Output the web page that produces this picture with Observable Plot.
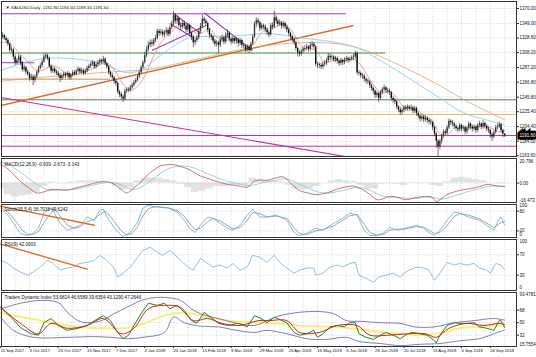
<!DOCTYPE html>
<html><head><meta charset="utf-8">
<script src="https://cdn.jsdelivr.net/npm/d3@7"></script>
<script src="https://cdn.jsdelivr.net/npm/@observablehq/plot@0.6"></script>
<style>
body{margin:0;background:#fff}
#chart{position:relative;width:536px;height:357px;overflow:hidden;background:#fff}
#chart svg{position:absolute;left:0;overflow:visible}
</style></head><body><div id="chart"></div>
<script>
// ---------- DATA ----------
const symbolTitle = "\u25BC XAUUSD,Daily  1192.80 1194.50 1189.30 1191.60";
const labelBars = [0,16,32,48,64,80,96,112,128,144,160,176,192,208,224,240,256,272];
const dateLabels = ["11 Sep 2017","3 Oct 2017","25 Oct 2017","15 Nov 2017","7 Dec 2017","2 Jan 2018","24 Jan 2018","15 Feb 2018","9 Mar 2018","29 Mar 2018","23 Apr 2018","15 May 2018","6 Jun 2018","28 Jun 2018","20 Jul 2018","13 Aug 2018","4 Sep 2018","26 Sep 2018"];
const priceTicks = [1370.00,1349.00,1328.60,1308.20,1287.20,1266.80,1245.80,1225.40,1204.40,1184.00,1163.60];
const firstOpen = 1335;
const closes = [1330,1332,1328,1325,1320,1311,1312,1302,1294,1297,1302,1294,1284,1287,1281,1278,1272,1274,1269,1274,
1280,1286,1290,1295,1302,1304,1300,1289,1282,1285,1281,1279,1276,1272,1275,1278,
1276,1279,1273,1276,1280,1278,1282,1285,1281,1283,1279,1282,1286,1289,1292,1294,
1288,1291,1294,1297,1295,1299,1293,1288,1280,1276,1273,1268,1265,1253,1249,1246,
1243,1254,1256,1255,1259,1262,1266,1269,1274,1280,1287,1294,1304,1312,1319,1322,
1320,1325,1328,1338,1335,1337,1333,1336,1339,1334,1343,1348,1360,1352,1356,1346,
1344,1349,1345,1340,1346,1335,1330,1322,1325,1329,1338,1345,1355,1352,1349,1340,
1332,1330,1324,1320,1322,1318,1326,1329,1323,1332,1335,1327,1323,1328,1324,1326,
1321,1325,1318,1317,1312,1316,1311,1320,1330,1348,1353,1350,1342,1346,1344,1340,
1336,1333,1346,1344,1357,1352,1348,1350,1345,1349,1344,1340,1335,1330,1326,1322,
1314,1308,1306,1310,1313,1314,1316,1313,1318,1320,1316,1292,1291,1290,1288,1292,
1293,1297,1303,1301,1302,1298,1300,1296,1293,1297,1294,1298,1300,1297,1299,1301,
1302,1307,1280,1279,1276,1275,1271,1268,1267,1262,1258,1254,1248,1251,1244,1252,
1256,1259,1255,1254,1252,1244,1241,1239,1232,1228,1224,1227,1231,1229,1232,1229,
1231,1226,1230,1223,1219,1215,1218,1214,1216,1213,1211,1210,1203,1194,1184,1176,
1184,1191,1197,1195,1203,1212,1210,1208,1205,1202,1200,1206,1201,1203,1197,1202,
1208,1204,1201,1204,1199,1206,1208,1204,1209,1205,1201,1199,1193,1190,1196,1203,1204,1207,1199,1194,1191.6];
const highs = [1338,1336,1334,1331,1328,1322,1316,1314,1305,1300,1306,1304,1296,1291,1289,1284,1280,1278,1277,1277,
1283,1289,1293,1298,1306,1307,1306,1302,1291,1288,1287,1284,1282,1279,1278,1281,
1280,1282,1281,1279,1283,1283,1285,1288,1287,1286,1285,1285,1289,1292,1295,1297,
1296,1294,1297,1300,1299,1303,1301,1295,1290,1282,1279,1275,1270,1267,1255,1252,
1249,1257,1259,1259,1262,1265,1269,1272,1277,1283,1290,1297,1308,1316,1323,1326,
1326,1328,1332,1341,1341,1341,1340,1339,1343,1342,1346,1352,1366,1363,1360,1358,
1350,1352,1352,1348,1349,1348,1337,1332,1328,1332,1341,1349,1361,1358,1355,1351,
1342,1335,1332,1327,1325,1324,1330,1333,1331,1336,1340,1337,1329,1331,1330,1329,
1328,1328,1327,1321,1319,1319,1318,1323,1333,1351,1357,1356,1352,1349,1348,1347,
1342,1339,1349,1350,1366,1360,1355,1354,1352,1352,1351,1347,1342,1337,1333,1329,
1324,1316,1311,1313,1316,1318,1320,1318,1322,1324,1322,1318,1295,1294,1293,1295,
1297,1300,1307,1306,1305,1304,1303,1302,1298,1300,1299,1301,1303,1302,1302,1304,
1306,1310,1309,1283,1281,1279,1277,1273,1271,1269,1264,1260,1256,1254,1253,1255,
1259,1263,1261,1258,1257,1254,1247,1244,1241,1234,1231,1230,1234,1234,1235,1234,
1235,1233,1233,1232,1225,1221,1221,1220,1219,1218,1216,1214,1212,1205,1196,1186,
1187,1194,1200,1200,1206,1215,1214,1213,1210,1207,1204,1209,1208,1206,1205,1205,
1211,1210,1207,1207,1206,1209,1212,1210,1213,1211,1207,1204,1201,1196,1199,1206,1208,1211,1209,1201,1194.5];
const lows = [1326,1327,1325,1322,1317,1308,1308,1298,1290,1291,1294,1290,1281,1281,1277,1275,1268,1269,1262,1266,
1272,1278,1284,1287,1293,1299,1297,1286,1279,1279,1278,1276,1273,1266,1269,1272,
1272,1273,1270,1270,1274,1275,1276,1280,1278,1278,1276,1277,1280,1283,1286,1289,
1285,1285,1288,1291,1292,1293,1290,1285,1277,1273,1270,1264,1261,1250,1245,1242,
1238,1241,1251,1252,1253,1256,1260,1264,1267,1272,1278,1285,1292,1301,1309,1315,
1316,1317,1322,1326,1331,1332,1329,1330,1333,1330,1331,1340,1346,1348,1348,1343,
1339,1341,1341,1336,1337,1331,1325,1315,1318,1322,1326,1335,1342,1348,1345,1336,
1328,1325,1320,1316,1316,1307,1315,1322,1319,1320,1328,1323,1319,1320,1320,1320,
1316,1318,1314,1313,1308,1309,1307,1309,1318,1328,1343,1346,1338,1339,1340,1336,
1332,1329,1331,1340,1342,1348,1344,1345,1341,1342,1340,1336,1331,1326,1322,1318,
1310,1302,1302,1303,1307,1309,1311,1309,1310,1315,1312,1288,1286,1286,1284,1285,
1288,1290,1294,1297,1297,1295,1294,1292,1289,1290,1290,1291,1295,1293,1294,1296,
1297,1299,1277,1275,1272,1271,1267,1264,1263,1258,1254,1250,1244,1245,1238,1241,
1249,1253,1251,1250,1248,1240,1237,1235,1228,1224,1220,1221,1224,1226,1226,1226,
1226,1222,1223,1219,1215,1211,1212,1210,1211,1209,1207,1206,1199,1190,1174,1160,
1172,1180,1188,1191,1193,1200,1206,1204,1201,1198,1196,1197,1197,1198,1193,1194,
1199,1200,1197,1198,1195,1196,1203,1200,1201,1201,1197,1195,1188,1184,1187,1194,1200,1202,1195,1189,1189.3];

// moving averages: [bar, price]
const maFast = [[0,1322],[4,1322],[8,1314],[12,1303],[16,1293],[20,1283],[24,1284],[28,1290],[32,1287],[36,1280],[40,1277],[44,1280],[48,1282],[52,1287],[56,1292],[60,1292],[64,1281],[68,1264],[72,1255],[76,1261],[80,1275],[84,1298],[88,1318],[92,1332],[96,1340],[100,1349],[104,1347],[108,1336],[112,1336],[116,1342],[120,1330],[124,1325],[128,1327],[132,1326],[136,1319],[140,1318],[144,1334],[148,1342],[152,1343],[156,1349],[160,1344],[164,1330],[168,1314],[172,1314],[176,1308],[180,1294],[184,1297],[188,1298],[192,1297],[196,1299],[200,1291],[204,1275],[208,1260],[212,1252],[216,1254],[220,1245],[224,1232],[228,1230],[232,1226],[236,1219],[240,1212],[244,1194],[248,1193],[252,1202],[256,1204],[260,1203],[264,1203],[268,1205],[272,1203],[276,1198],[280,1199]];
const maMid = [[0,1283],[24,1300],[55,1294],[70,1280],[79,1285],[87,1301],[104,1328],[120,1331],[133,1332],[148,1335],[166,1329],[185,1323],[198,1315],[209,1300],[222,1280],[235,1259],[246,1241],[257,1224],[268,1215],[277,1209],[280,1207]];
const maSlow = [[0,1268],[33,1276],[67,1282],[83,1285],[111,1300],[139,1315],[167,1322],[189,1320],[203,1311],[222,1290],[241,1266],[259,1240],[280,1214]];

// drawn objects: horizontal levels and trend lines (bar index, price)
const levels = [
  {kind:"purple", price:1362.6, from:0, to:192},
  {kind:"green", price:1307.6, from:0, to:214},
  {kind:"purple", price:1294, from:0, to:19},
  {kind:"brown", price:1271, from:0, to:61},
  {kind:"olive", price:1242.1, from:0, to:290},
  {kind:"sand", price:1221.4, from:0, to:290},
  {kind:"magenta", price:1192, from:0, to:290},
  {kind:"magenta", price:1177, from:0, to:290}
];
const trends = [
  {kind:"magenta", b1:0, p1:1245.3, b2:194, p2:1161.4},
  {kind:"orange", b1:0, p1:1234.1, b2:196, p2:1346.2},
  {kind:"purple", b1:96, p1:1363, b2:111, p2:1335},
  {kind:"purple", b1:94, p1:1349, b2:107, p2:1329},
  {kind:"purple", b1:84, p1:1311, b2:114, p2:1346},
  {kind:"purple", b1:113, p1:1364, b2:140, p2:1311}
];

// MACD(12,26,9)
const macdTitle = "MACD(12,26,9) -0.939 -2.673 -3.143";
const macdMain = [[0,16],[4,12],[8,6],[12,0],[16,-4.5],[20,-8.4],[24,-7.5],[28,-5.5],[32,-5.5],[37,-6],[42,-4],[46,-2.6],[51,-0.5],[55,1],[59,1],[61,0.4],[64,-2],[67,-5.5],[70,-8.4],[74,-4],[78,1],[82,7.5],[86,12],[89,14.7],[93,15.5],[96,15.6],[100,14],[104,11.9],[108,8.5],[111,6],[115,4],[118,2.3],[122,0.5],[126,-1.1],[130,-2],[133,-2.6],[137,-3.5],[141,1.7],[145,2.5],[148,2.3],[152,4],[157,5.2],[161,0],[166,-6.3],[171,-8.5],[175,-9.8],[181,-8.4],[188,-4.6],[192,-3.2],[196,-2.6],[201,-5.5],[205,-9.5],[209,-14.1],[212,-13.5],[216,-11.3],[220,-12],[225,-14.1],[230,-12.5],[237,-11.3],[240,-12.5],[242,-15.6],[245,-13],[248,-9.8],[252,-7.5],[255,-6.3],[259,-5.2],[263,-4.1],[266,-3],[270,-1.1],[274,-2],[277,-2.6],[280,-3.14]];
const macdSignal = [[0,17.5],[4,16],[8,12.5],[12,8],[16,3.5],[20,-1],[24,-4.5],[28,-6],[32,-6],[37,-5.8],[42,-5],[46,-3.8],[51,-2],[55,-0.5],[59,0.5],[64,0],[67,-1.5],[70,-4],[74,-5.5],[78,-3.5],[82,0.5],[86,5],[89,8.5],[93,12],[96,13.5],[100,14.5],[104,14],[108,12.5],[111,10.5],[115,8],[118,6],[122,3.5],[126,1.5],[130,0],[133,-1],[137,-2.2],[141,-1.5],[145,0],[148,1],[152,2],[157,3.5],[161,2.5],[166,-1],[171,-4.5],[175,-7],[181,-8.5],[188,-7],[192,-5.5],[196,-4],[201,-4.2],[205,-6],[209,-9],[212,-11],[216,-12],[220,-12],[225,-12.8],[230,-13],[237,-12],[240,-12],[242,-13],[245,-13.5],[248,-12.8],[252,-11],[255,-9.5],[259,-7.5],[263,-6],[266,-4.8],[270,-3],[274,-2.5],[277,-2.5],[280,-2.67]];
const macdHist = [[0,-5],[4,-10],[8,-12],[12,-11],[16,-10],[20,-8],[24,-3],[28,1],[32,0.5],[36,-0.5],[40,1],[44,2],[48,2],[52,2],[56,1],[60,0],[64,-3],[68,-6],[72,-4],[76,2],[80,4],[84,4],[88,4],[92,3],[96,2],[100,-1],[104,-4],[108,-8],[112,-7],[116,-5],[120,-3],[124,-3],[128,-2],[132,-2],[136,-2],[140,4],[144,3],[148,2],[152,2],[156,1],[160,-2],[164,-5],[168,-6],[172,-5],[176,-3],[180,0],[184,2],[188,3],[192,2],[196,1],[200,-2],[204,-5],[208,-5],[212,-1],[216,0.5],[220,-1],[224,-2],[228,0.5],[232,0.5],[236,0.5],[240,-2],[244,-3],[248,1],[252,4],[256,5],[260,4],[264,3],[268,2],[272,0],[276,-0.5],[280,-0.9]];
const macdRange = [-16.473, 20.796];

// Stochastic(15,5,4)
const stochTitle = "Stoch(15,5,4) 36.7038 49.6242";
const stochMain = [[1,83],[5,62],[9,28],[11,12],[15,6],[18,12],[21,28],[24,74],[28,89],[29,83],[33,43],[37,22],[44,37],[48,62],[52,52],[55,83],[57,86],[59,62],[63,31],[67,6],[68,3],[72,15],[76,46],[79,89],[82,98],[87,92],[93,89],[98,77],[102,52],[105,28],[108,15],[111,37],[115,62],[118,58],[122,43],[126,28],[129,22],[133,37],[137,68],[140,86],[144,62],[148,62],[153,68],[159,52],[163,15],[166,6],[170,12],[175,28],[179,22],[185,43],[190,58],[194,74],[198,68],[202,22],[205,6],[209,6],[213,15],[216,31],[220,22],[225,28],[231,37],[235,28],[238,15],[241,6],[244,22],[248,52],[252,77],[255,74],[260,62],[266,52],[270,37],[274,22],[277,58],[278,62],[280,36.7]];
const stochSignal = [[1,88],[5,72],[9,45],[12,22],[15,10],[18,10],[21,18],[24,45],[28,75],[30,85],[33,65],[37,38],[41,28],[44,32],[48,48],[52,55],[55,70],[58,80],[60,70],[63,48],[67,20],[70,8],[73,12],[76,32],[79,65],[82,88],[87,94],[93,90],[98,82],[102,64],[105,42],[108,24],[111,28],[115,48],[118,58],[122,50],[126,36],[129,26],[133,30],[137,52],[140,76],[144,72],[148,62],[153,65],[159,58],[163,30],[166,12],[170,9],[175,20],[179,24],[185,35],[190,52],[194,66],[198,70],[202,40],[205,15],[209,7],[213,10],[216,22],[220,25],[225,26],[231,33],[235,31],[238,22],[241,12],[244,15],[248,36],[252,64],[255,72],[260,68],[266,56],[270,44],[274,30],[277,42],[280,49.6]];
const stochTrend = [[0,95],[52,37]];

// RSI(9)
const rsiTitle = "RSI(9) 42.0003";
const rsi = [[0,59],[4,53],[7,44],[11,36],[15,30],[18,36],[22,46],[26,59],[29,53],[33,40],[37,44],[40,46],[44,53],[48,55],[52,59],[55,69],[59,59],[63,44],[65,26],[68,34],[72,46],[76,65],[79,79],[83,85],[87,75],[90,69],[94,79],[100,59],[104,46],[107,40],[111,63],[115,53],[118,46],[122,50],[126,44],[129,53],[133,40],[137,46],[140,69],[144,65],[148,55],[152,69],[155,55],[159,44],[163,34],[166,40],[170,44],[174,44],[175,30],[179,34],[183,46],[187,50],[190,46],[194,53],[197,55],[199,30],[203,24],[207,16],[210,26],[214,30],[218,34],[222,26],[224,34],[227,40],[231,46],[235,44],[238,40],[241,20],[244,34],[248,55],[252,50],[255,53],[259,50],[263,53],[266,44],[270,40],[272,34],[275,53],[278,50],[279,44],[280,42]];
const rsiTrend = [[0,91],[48,42]];

// Traders Dynamic Index
const tdiTitle = "Traders Dynamic Index 53.6824 46.6589 39.6354 43.1290 47.2646";
const tdiRange = [15.7554, 93.4781];
const tdiUpper = [[0,70],[11,78],[22,82],[32,79],[37,65],[43,53],[48,50],[56,53],[63,63],[70,72],[78,82],[85,86],[93,86],[100,82],[106,70],[111,63],[121,56],[130,50],[141,46],[148,53],[155,60],[166,65],[177,66],[185,63],[192,53],[200,52],[211,50],[222,49],[230,44],[241,44],[252,50],[263,53],[274,56],[280,53.7]];
const tdiLower = [[0,58],[7,39],[18,29],[37,29],[52,30],[61,29],[71,27],[79,29],[91,36],[96,58],[102,50],[111,45],[121,44],[129,40],[141,36],[148,39],[159,34],[170,27],[181,26],[192,29],[199,23],[211,20],[222,17],[233,19],[244,20],[255,24],[266,27],[274,34],[280,39.6]];
const tdiBase = [[0,64],[18,55],[37,46],[56,42],[74,44],[93,62],[104,64],[115,58],[130,52],[148,50],[166,46],[185,44],[194,42],[203,39],[222,34],[233,32],[244,35],[255,42],[266,44],[280,46.7]];
const tdiGreen = [[0,72],[6,57],[11,43],[17,34],[21,32],[24,50],[28,56],[32,46],[37,39],[43,42],[48,46],[54,56],[57,60],[61,53],[65,36],[68,27],[71,32],[74,46],[78,63],[82,78],[87,75],[91,78],[94,70],[98,75],[102,65],[106,53],[109,49],[113,65],[117,57],[121,49],[126,46],[132,49],[137,44],[141,60],[144,57],[148,50],[152,58],[159,50],[163,36],[166,32],[170,34],[174,39],[176,29],[179,34],[183,44],[187,46],[191,44],[194,50],[197,50],[199,34],[203,29],[207,26],[211,32],[214,36],[218,32],[222,27],[226,34],[229,36],[233,34],[237,32],[241,24],[242,21],[244,32],[248,46],[252,50],[255,49],[259,49],[263,50],[266,44],[270,42],[274,39],[277,53],[278,53],[280,43.1]];
const tdiRed = [[0,72],[11,49],[21,34],[28,49],[37,42],[48,46],[57,56],[67,34],[74,42],[82,70],[91,75],[100,72],[107,53],[115,56],[123,49],[133,46],[143,53],[149,53],[159,53],[166,36],[177,36],[187,46],[198,46],[205,32],[215,32],[226,34],[236,34],[242,29],[249,42],[259,49],[268,46],[277,49],[280,47.3]];

// ---------- STYLE ----------
const col = {purple:"#9a3db4", magenta:"#c4309a", green:"#3b8f3b", olive:"#5b7b5b", sand:"#f0b560", brown:"#c98a52", orange:"#d8702a"};
const FONT = "Liberation Sans, Arial, sans-serif";
const xDomain = [0.444, 286.56];
const gridBars = d3.range(8, 285, 8);
const gridStyle = {stroke:"#b4b4b4", strokeWidth:0.5, strokeDasharray:"1,1.5"};
const root = document.getElementById("chart");

function panel(top, height, mt, mb, yDomain, marks, xAxis) {
  const svg = Plot.plot({
    width: 536, height, marginLeft: 1, marginRight: 20, marginTop: mt, marginBottom: mb,
    x: {domain: xDomain, ...(xAxis ? {} : {axis: null})},
    y: {domain: yDomain},
    style: {background: "transparent", fontSize: "4.5px", fontFamily: FONT, overflow: "visible", color: "#111"},
    marks
  });
  svg.style.top = top + "px";
  root.append(svg);
}
const pt = {x: d => d[0], y: d => d[1]};
const edgeLabel = (v, txt, dy) => Plot.text([v], {x: () => xDomain[1], y: d => d, text: () => txt, textAnchor: "start", dx: 3, dy, fontSize: 4.5, fill: "#111"});
const title = (txt, dy) => Plot.text([txt], {frameAnchor: "top-left", text: d => d, textAnchor: "start", dx: 3, dy, fontSize: 4.6, fill: "#111"});
const yAxis = (ticks, fmt) => Plot.axisY({anchor: "right", ticks, tickFormat: fmt, tickSize: 2, tickPadding: 1, fontSize: 4.5, stroke: "#333"});

// ---------- MAIN PRICE PANEL ----------
const candles = closes.map((c, i) => ({i, o: i ? closes[i - 1] : firstOpen, c, h: highs[i], l: lows[i]}));
panel(0, 157, 1, 1, [1162.6, 1379.8], [
  Plot.ruleX(gridBars, gridStyle),
  Plot.ruleY(priceTicks, gridStyle),
  Plot.ruleY(levels, {y: "price", x1: "from", x2: "to", stroke: d => col[d.kind], strokeWidth: 1, clip: true}),
  Plot.link(trends, {x1: "b1", y1: "p1", x2: "b2", y2: "p2", stroke: d => col[d.kind], strokeWidth: d => d.kind === "orange" ? 1.5 : 1.1, clip: true}),
  Plot.line(maSlow, {...pt, stroke: "#d9a57a", strokeWidth: 0.8, curve: "catmull-rom"}),
  Plot.line(maMid, {...pt, stroke: "#7ecbe6", strokeWidth: 0.8, curve: "catmull-rom"}),
  Plot.line(maFast, {...pt, stroke: "#e0806c", strokeWidth: 0.7, curve: "catmull-rom"}),
  Plot.ruleX(candles, {x: "i", y1: "l", y2: "h", stroke: "#1a1a1a", strokeWidth: 0.6, clip: true}),
  Plot.ruleX(candles, {x: "i", y1: "o", y2: "c", stroke: d => d.c >= d.o ? "#3a3a3a" : "#111", strokeWidth: 1.4, clip: true}),
  Plot.frame({stroke: "#333", strokeWidth: 1}),
  yAxis(priceTicks, d => d.toFixed(2)),
  Plot.text([closes[closes.length - 1]], {x: () => xDomain[1], y: d => d, text: d => d.toFixed(2), textAnchor: "start", dx: 3, fill: "white", stroke: "black", strokeWidth: 5, strokeLinejoin: "miter", paintOrder: "stroke", fontSize: 4.5}),
  Plot.text([symbolTitle], {frameAnchor: "top-left", text: d => d, textAnchor: "start", dx: 4, dy: 4, fontSize: 4.4, fill: "#222"})
]);

// ---------- MACD ----------
panel(157, 46, 1, 1, macdRange, [
  Plot.ruleX(gridBars, gridStyle),
  Plot.ruleY([0], gridStyle),
  Plot.areaY(macdHist, {...pt, curve: "step", fill: "#d6d6d6", fillOpacity: 0.7}),
  Plot.line(macdSignal, {...pt, stroke: "#7fc8e0", strokeWidth: 0.8, curve: "catmull-rom"}),
  Plot.line(macdMain, {...pt, stroke: "#c2504e", strokeWidth: 0.8, curve: "catmull-rom"}),
  Plot.frame({stroke: "#333", strokeWidth: 1}),
  yAxis([0], d => d.toFixed(2)),
  edgeLabel(macdRange[1], "20.796", 3),
  edgeLabel(macdRange[0], "-16.473", -2),
  title(macdTitle, 4)
]);

// ---------- STOCHASTIC ----------
panel(203, 35, 1, 1, [0, 100], [
  Plot.ruleX(gridBars, gridStyle),
  Plot.ruleY([80, 20], gridStyle),
  Plot.line(stochSignal, {...pt, stroke: "#555", strokeWidth: 0.6, strokeDasharray: "1.2,1"}),
  Plot.line(stochMain, {...pt, stroke: "#5aaed0", strokeWidth: 0.8}),
  Plot.line(stochTrend, {...pt, stroke: "#d8702a", strokeWidth: 1.4}),
  Plot.frame({stroke: "#333", strokeWidth: 1}),
  yAxis([80, 20], d => d),
  edgeLabel(100, "100", 1.5),
  edgeLabel(0, "0", -2.5),
  title(stochTitle, 3)
]);

// ---------- RSI ----------
panel(237, 54, 2, 1, [0, 100], [
  Plot.ruleX(gridBars, gridStyle),
  Plot.ruleY([70, 30], gridStyle),
  Plot.line(rsi, {...pt, stroke: "#7aaed6", strokeWidth: 0.8}),
  Plot.line(rsiTrend, {...pt, stroke: "#d8702a", strokeWidth: 1.4}),
  Plot.frame({stroke: "#333", strokeWidth: 1}),
  yAxis([70, 30], d => d),
  edgeLabel(100, "100", 2.5),
  edgeLabel(0, "0", -3),
  title(rsiTitle, 3)
]);

// ---------- TDI ----------
panel(291, 66, 1, 11, tdiRange, [
  Plot.ruleX(gridBars, gridStyle),
  Plot.ruleY([68, 50, 32], gridStyle),
  Plot.line(tdiBase, {...pt, stroke: "#f5f07a", strokeWidth: 2, curve: "catmull-rom"}),
  Plot.line(tdiUpper, {...pt, stroke: "#5d5fb0", strokeWidth: 0.8, curve: "catmull-rom"}),
  Plot.line(tdiLower, {...pt, stroke: "#5d5fb0", strokeWidth: 0.8, curve: "catmull-rom"}),
  Plot.line(tdiGreen, {...pt, stroke: "#1f8a1f", strokeWidth: 1}),
  Plot.line(tdiRed, {...pt, stroke: "#d42020", strokeWidth: 1, curve: "catmull-rom"}),
  Plot.frame({stroke: "#333", strokeWidth: 1}),
  yAxis([68, 50, 32], d => d),
  edgeLabel(tdiRange[1], "93.4781", 2),
  edgeLabel(tdiRange[0], "15.7554", -1.5),
  title(tdiTitle, 3),
  Plot.axisX({ticks: labelBars, tickFormat: d => dateLabels[labelBars.indexOf(d)], textAnchor: "start", tickSize: 2, tickPadding: 1, fontSize: 4.2, stroke: "#333"})
], true);
</script></body></html>
